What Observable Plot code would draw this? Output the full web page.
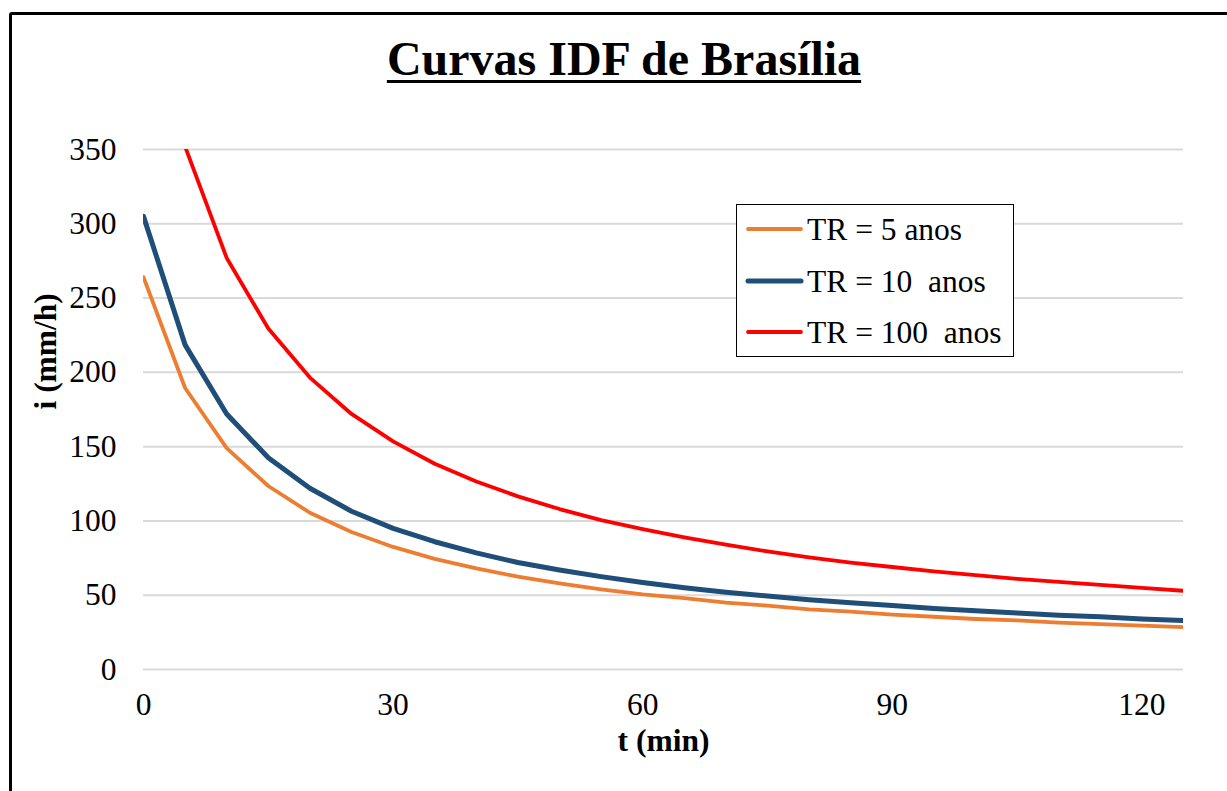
<!DOCTYPE html>
<html>
<head>
<meta charset="utf-8">
<script src="https://cdn.jsdelivr.net/npm/d3@7"></script>
<script src="https://cdn.jsdelivr.net/npm/@observablehq/plot@0.6"></script>
<style>
  html, body { margin: 0; padding: 0; background: #fff; overflow: hidden; }
  body { width: 1227px; height: 791px; position: relative; font-family: "Liberation Serif", "Times New Roman", serif; }
  #frame { position: absolute; left: 9px; top: 12px; width: 1240px; height: 800px; border: 3.5px solid #000; border-radius: 3px; box-sizing: border-box; }
  #title { position: absolute; left: 0; top: 35px; width: 1248px; text-align: center; font-size: 48px; line-height: 48px; font-weight: bold; color: #000;
           text-decoration: underline; text-decoration-thickness: 3px; text-underline-offset: 5px; }
  #chart { position: absolute; left: 0; top: 110px; }
  #chart svg text { font-family: "Liberation Serif", "Times New Roman", serif; }
  #legend { position: absolute; left: 736px; top: 204px; width: 278px; height: 153px; border: 1.3px solid #000; box-sizing: border-box; background: #fff; }
  #legend svg { position: absolute; left: -1.3px; top: -1.3px; overflow: visible; }
  #legend svg text { font-family: "Liberation Serif", "Times New Roman", serif; white-space: pre; }
</style>
</head>
<body>
<div id="frame"></div>
<div id="title">Curvas IDF de Brasília</div>
<div id="chart"></div>
<div id="legend"></div>
<script>
// Durations (min)
const tAll = [0,5,10,15,20,25,30,35,40,45,50,55,60,65,70,75,80,85,90,95,100,105,110,115,120,125];
const t100 = [5,10,15,20,25,30,35,40,45,50,55,60,65,70,75,80,85,90,95,100,105,110,115,120,125];
// Intensities (mm/h)
const i5   = [264,189.5,149,123.5,105.5,92.5,82.5,74.5,68,62.5,58,54,50.5,48,45,43,40.5,39,37,35.5,34,33,31.5,30.5,29.5,28.5];
const i10  = [305,218.5,172,142.5,122,106.5,95,86,78.5,72,67,62.5,58.5,55,52,49.5,47,45,43,41,39.5,38,36.5,35.5,34,33];
const i100 = [352,277,229.5,196.5,172,153.5,138.5,126.5,116.5,108,100.5,94.5,89,84,79.5,75.5,72,69,66,63.5,61,59,57,55,53];
// Series
const seriesNames  = ["TR = 5 anos", "TR = 10  anos", "TR = 100  anos"];
const seriesColors = ["#ED7D31", "#1F4E79", "#FF0000"];
const seriesWidths = [3.8, 5, 3.8];
// Ticks
const xTicks = [0, 30, 60, 90, 120];
const yTicks = [0, 50, 100, 150, 200, 250, 300, 350];
const xTitle = "t (min)";
const yTitle = "i (mm/h)";

const data = [
  ...tAll.map((t, k) => ({t, i: i5[k], s: seriesNames[0]})),
  ...tAll.map((t, k) => ({t, i: i10[k], s: seriesNames[1]})),
  ...t100.map((t, k) => ({t, i: i100[k], s: seriesNames[2]}))
];

const lineMarks = seriesNames.map((name, k) =>
  Plot.line(data.filter(d => d.s === name), {
    x: "t", y: "i", stroke: seriesColors[k], strokeWidth: seriesWidths[k],
    curve: "linear", strokeLinejoin: "round", strokeLinecap: "round", clip: true
  })
);

const chart = Plot.plot({
  width: 1227,
  height: 681,
  marginLeft: 143,
  marginRight: 44,
  marginTop: 39,
  marginBottom: 122,
  style: { fontFamily: "'Liberation Serif', 'Times New Roman', serif", color: "#000", background: "transparent", overflow: "visible" },
  x: { domain: [0, 125] },
  y: { domain: [0, 350] },
  marks: [
    Plot.gridY(yTicks, { stroke: "#d9d9d9", strokeOpacity: 1, strokeWidth: 2 }),
    Plot.axisY(yTicks, { tickSize: 0, tickPadding: 27, fontSize: 31.5, label: null, tickFormat: d => String(d) }),
    Plot.axisX(xTicks, { tickSize: 0, tickPadding: 23, fontSize: 31.5, label: null, tickFormat: d => String(d) }),
    ...lineMarks,
    Plot.text([xTitle], { frameAnchor: "bottom", dy: 81, fontSize: 31.5, fontWeight: "bold", fill: "#000" }),
    Plot.text([yTitle], { frameAnchor: "left", dx: -98, rotate: -90, fontSize: 31.5, fontWeight: "bold", fill: "#000" })
  ]
});
document.getElementById("chart").appendChild(chart);

// Legend
const ns = "http://www.w3.org/2000/svg";
const lsvg = document.createElementNS(ns, "svg");
lsvg.setAttribute("width", 278);
lsvg.setAttribute("height", 153);
const rowCenters = [25, 77, 128];
seriesNames.forEach((name, k) => {
  const ln = document.createElementNS(ns, "line");
  ln.setAttribute("x1", 12); ln.setAttribute("x2", 65);
  ln.setAttribute("y1", rowCenters[k]); ln.setAttribute("y2", rowCenters[k]);
  ln.setAttribute("stroke", seriesColors[k]);
  ln.setAttribute("stroke-width", seriesWidths[k]);
  ln.setAttribute("stroke-linecap", "round");
  lsvg.appendChild(ln);
  const tx = document.createElementNS(ns, "text");
  tx.setAttribute("x", 71);
  tx.setAttribute("y", rowCenters[k] + 11);
  tx.setAttribute("font-size", 31.5);
  tx.setAttribute("fill", "#000");
  tx.textContent = name;
  lsvg.appendChild(tx);
});
document.getElementById("legend").appendChild(lsvg);
</script>
</body>
</html>
